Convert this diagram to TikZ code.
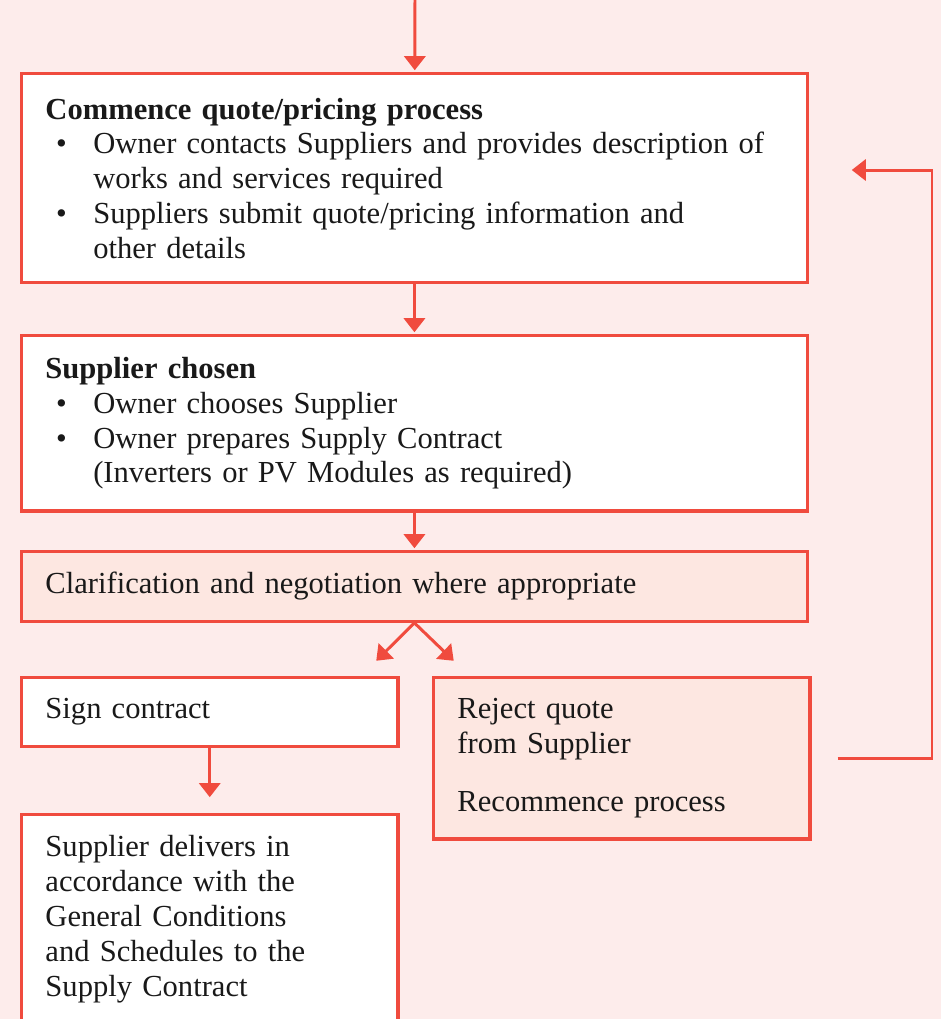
\documentclass[tikz,border=0pt]{standalone}
\usepackage{fontspec}
\setmainfont{Liberation Serif}
\usetikzlibrary{arrows.meta}
\definecolor{flowred}{HTML}{F04B3E}
\definecolor{bgpink}{HTML}{FDECEB}
\definecolor{boxpink}{HTML}{FDE7E1}
\newcommand{\bul}{\makebox[27.2pt][l]{\hspace{6pt}\textbullet}}
\newcommand{\ind}{\hspace*{27.2pt}}

\begin{document}
\begin{tikzpicture}[x=0.02cm,y=-0.02cm,>={Triangle[width=12pt,length=8pt]},
  flow/.style={->,draw=flowred,line width=1.7pt,shorten >=1pt},
  box/.style={rectangle,draw=flowred,fill=white,line width=1.8pt,anchor=north west,align=left,
    inner xsep=13.6pt,text=black!90,font=\fontsize{17.4}{19.8}\selectfont},
  wide box/.style={box,text width=420pt},
  small box/.style={box,text width=187pt}]

  \useasboundingbox (0,0) rectangle (941,1019);
  \fill[bgpink] (0,0) rectangle (941,1019);

  \node[wide box, minimum height=119pt] (commence) at (20,72) {{\bfseries Commence quote/pricing process}\\
    \bul Owner contacts Suppliers and provides description of\\
    \ind works and services required\\
    \bul Suppliers submit quote/pricing information and\\
    \ind other details};
  \node[wide box, minimum height=99.8pt] (chosen) at (20,334) {{\bfseries Supplier chosen}\\
    \bul Owner chooses Supplier\\
    \bul Owner prepares Supply Contract\\
    \ind(Inverters or PV Modules as required)};
  \node[wide box, fill=boxpink, minimum height=39.7pt] (clarify) at (20,550) {Clarification and negotiation where appropriate};
  \node[small box, minimum height=39.1pt] (sign) at (20,676) {Sign contract};
  \node[small box, fill=boxpink, minimum height=91.9pt] (reject) at (432,676) {Reject quote\\
    from Supplier\\[13pt]
    Recommence process};
  \node[small box, minimum height=119pt] (deliver) at (20,813) {Supplier delivers in\\
    accordance with the\\
    General Conditions\\
    and Schedules to the\\
    Supply Contract};

  \coordinate (entry) at (415,0);
  \coordinate (leftend) at (375,662);
  \coordinate (rightend) at (455,662);
  \coordinate (loopturn) at (932,170);
  \coordinate (loopend) at (850,170);

  \draw[flow] (entry) -- (commence);
  \draw[flow] (commence) -- (chosen);
  \draw[flow] (chosen) -- (clarify);
  \draw[flow] (clarify.south) -- (leftend);
  \draw[flow] (clarify.south) -- (rightend);
  \draw[flow, shorten >=9pt] (sign) -- (deliver);
  \draw[flow] ([xshift=0.52cm]reject.east) -| (loopturn) -- (loopend);
\end{tikzpicture}
\end{document}
